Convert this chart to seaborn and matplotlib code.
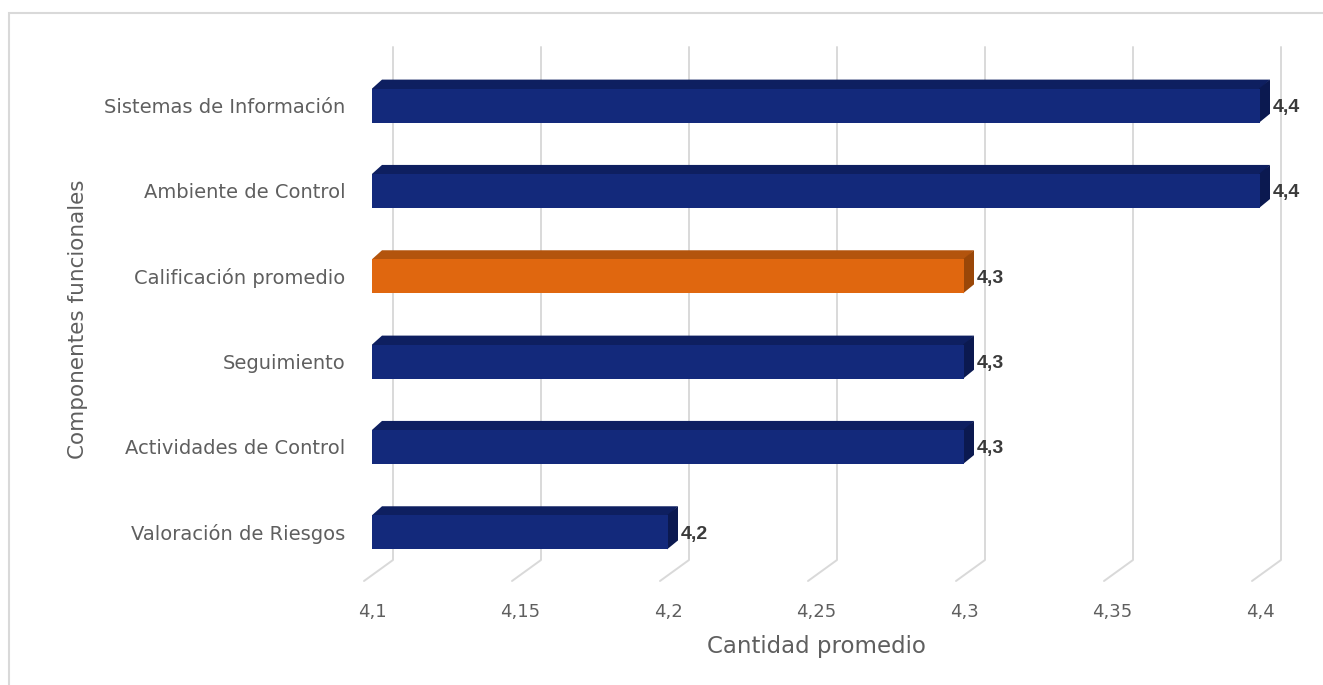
import matplotlib
matplotlib.use("Agg")
import matplotlib.pyplot as plt
import seaborn as sns
from matplotlib.patches import Polygon, Rectangle
from matplotlib.lines import Line2D
from matplotlib.transforms import IdentityTransform

# Data
componentes = ["Sistemas de Información", "Ambiente de Control", "Calificación promedio",
               "Seguimiento", "Actividades de Control", "Valoración de Riesgos"]
valores = [4.4, 4.4, 4.3, 4.3, 4.3, 4.2]
etiquetas = ["4,4", "4,4", "4,3", "4,3", "4,3", "4,2"]
ticks = [4.1, 4.15, 4.2, 4.25, 4.3, 4.35, 4.4]
tick_labels = ["4,1", "4,15", "4,2", "4,25", "4,3", "4,35", "4,4"]
destacado = "Calificación promedio"

# Styling
AZUL = "#13297b"
NARANJA = "#e0670f"
caras = {AZUL: ("#0e1f60", "#0b1950"), NARANJA: ("#b3540d", "#9a4708")}
GRIS_TXT = "#5f5f5f"
GRIS_LINEA = "#d9d9d9"
FUENTE = "DejaVu Sans"

W, H = 1323, 685
sns.set_theme(style="white")
plt.rcParams["font.family"] = [FUENTE]

fig = plt.figure(figsize=(W / 100, H / 100), dpi=100)
ax = fig.add_axes([372 / W, 1 - 575 / H, (1260 - 372) / W, (575 - 63) / H])

paleta = {c: (NARANJA if c == destacado else AZUL) for c in componentes}
sns.barplot(x=valores, y=componentes, hue=componentes, palette=paleta, orient="h",
            width=0.4, saturation=1, legend=False, ax=ax, zorder=2)

ax.set_xlim(ticks[0], ticks[-1])
ax.set_ylim(len(componentes) - 0.5, -0.5)
for s in ax.spines.values():
    s.set_visible(False)
ax.set_xticks(ticks)
ax.set_xticklabels(tick_labels)
ax.tick_params(axis="x", length=0, pad=20, labelsize=13, labelcolor=GRIS_TXT)
ax.tick_params(axis="y", length=0, pad=19, labelsize=14, labelcolor=GRIS_TXT)
ax.set_xlabel("Cantidad promedio", fontsize=16.5, color=GRIS_TXT, labelpad=10)
ax.set_ylabel("Componentes funcionales", fontsize=15.5, color=GRIS_TXT, labelpad=12)

fig.canvas.draw()

# depth offsets (pixels) for the pseudo-3D look
DX, DY = 10, 9          # bar depth
GX, GY = 21, 15         # back wall offset relative to the bar front plane
FX, FY = 8, 6           # floor extends in front of the bars

# Back-wall gridlines bending onto the floor
top_px = H - 47
ax_bottom_px = ax.transAxes.transform((0, 0))[1]
for v in ticks:
    px = ax.transData.transform((v, 0))[0]
    ln = Line2D([px + GX, px + GX, px - FX], [top_px, ax_bottom_px + GY, ax_bottom_px - FY],
                transform=IdentityTransform(), color=GRIS_LINEA, lw=1.4, zorder=0.5,
                clip_on=False)
    ax.add_line(ln)

# Top and side faces of each bar
x_min = ax.get_xlim()[0]
for patch, val, lab in zip(ax.patches, valores, etiquetas):
    y0 = patch.get_y()
    y1 = y0 + patch.get_height()
    x1 = patch.get_x() + patch.get_width()
    (ax0, ay_top), = ax.transData.transform([(x_min, y0)])
    (ax1, ay_bot), = ax.transData.transform([(x1, y1)])
    col = matplotlib.colors.to_hex(patch.get_facecolor())
    c_top, c_side = caras.get(col, caras[AZUL])
    top = Polygon([(ax0, ay_top - 1), (ax1, ay_top - 1), (ax1 + DX, ay_top + DY),
                   (ax0 + DX, ay_top + DY), (ax0, ay_top)],
                  closed=True, transform=IdentityTransform(), facecolor=c_top,
                  edgecolor="none", zorder=1.9, clip_on=False)
    side = Polygon([(ax1 - 1, ay_top), (ax1 + DX, ay_top + DY), (ax1 + DX, ay_bot + DY),
                    (ax1 - 1, ay_bot)],
                   closed=True, transform=IdentityTransform(), facecolor=c_side,
                   edgecolor="none", zorder=1.9, clip_on=False)
    ax.add_patch(top)
    ax.add_patch(side)
    patch.set_edgecolor("none")
    ax.annotate(lab, xy=(val, patch.get_y() + patch.get_height() / 2),
                xytext=(DX + 3, -2), textcoords="offset pixels", ha="left", va="center",
                fontsize=14, fontweight="bold", color="#3a3a3a",
                family="Liberation Sans", zorder=3, annotation_clip=False)

# Outer frame of the chart area
fig.add_artist(Rectangle((9 / W, -0.1), 1.2, 1 - 13 / H + 0.1, transform=fig.transFigure,
                         fill=False, edgecolor=GRIS_LINEA, lw=1.5))

fig.savefig("out.png", dpi=100)
